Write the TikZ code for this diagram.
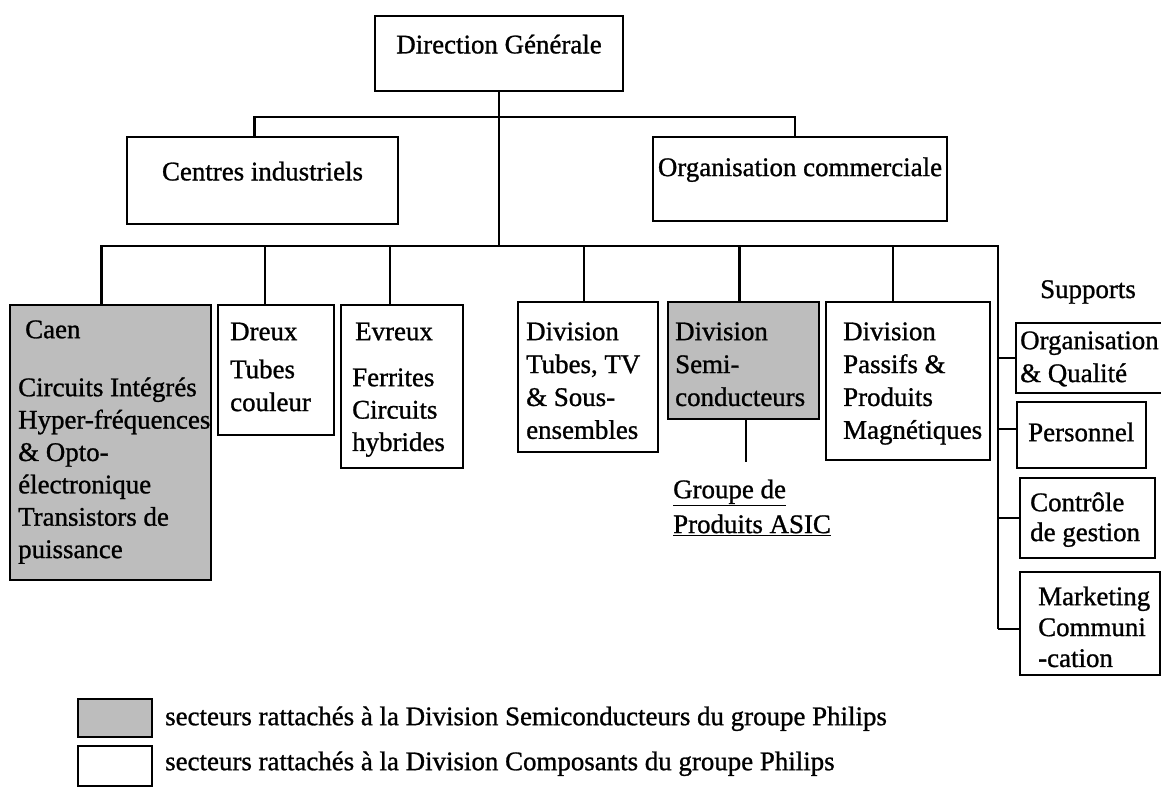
\documentclass[tikz,border=0pt]{standalone}
\usepackage{fontspec}
\setmainfont{Liberation Serif}[FakeBold=1]
\usetikzlibrary{fit}
\newcommand{\fstrut}{\rule{0pt}{20bp}}
\begin{document}
\begin{tikzpicture}[x=1bp,y=-1bp,
  box/.style={draw, line width=2.4bp, inner sep=0pt, rectangle},
  shadedbox/.style={box, fill=black!26},
  ctxt/.style={font=\fontsize{27}{33}\selectfont},
  txt/.style={inner sep=0pt, anchor=north west, align=left, font=\fontsize{27}{33}\selectfont},
  wire/.style={line width=2.4bp}]
\useasboundingbox (0,0) rectangle (1161,789);

% top level
\node[box, ctxt, fit={(375,16) (623,91)}] (dg) {Direction Générale};
\node[box, ctxt, fit={(127,137) (398,224)}] (cen) {Centres industriels};
\node[box, ctxt, fit={(653,137) (947,221)}] (oc) {Organisation commerciale};

% second level boxes
\node[shadedbox, fit={(10,305) (211,580)}] (caen) {};
\node[box, fit={(218,305) (334,435)}] (dreux) {};
\node[box, fit={(341,305) (463,468)}] (evreux) {};
\node[box, fit={(518,302) (658,452)}] (tubes) {};
\node[shadedbox, fit={(668,302) (819,419)}] (semi) {};
\node[box, fit={(826,302) (990,460)}] (passifs) {};

% supports boxes
\node[box, fit={(1016,323) (1162,393)}] (org) {};
\node[box, fit={(1017,402) (1146,468)}] (pers) {};
\node[box, fit={(1020,478) (1155,558)}] (ctl) {};
\node[box, fit={(1020,572) (1160,675)}] (mkt) {};

% texts
\node[txt] (caenT) at (25,318) {\fstrut Caen};
\node[txt, font=\fontsize{27}{32.5}\selectfont] (caenB) at (18,376) {\fstrut Circuits Intégrés\\Hyper-fréquences\\\& Opto-\\électronique\\Transistors de\\puissance};
\node[txt] (dreuxT) at (230,320) {\fstrut Dreux};
\node[txt] (dreuxB) at (230,358) {\fstrut Tubes\\couleur};
\node[txt] (evreuxT) at (355,320) {\fstrut Evreux};
\node[txt, font=\fontsize{27}{32.5}\selectfont] (evreuxB) at (352,366) {\fstrut Ferrites\\Circuits\\hybrides};
\node[txt] (tubesT) at (526,320) {\fstrut Division\\Tubes, TV\\\& Sous-\\ensembles};
\node[txt] (semiT) at (675,320) {\fstrut Division\\Semi-\\conducteurs};
\node[txt] (passifsT) at (843,320) {\fstrut Division\\Passifs \&\\Produits\\Magnétiques};
\node[ctxt, anchor=base] (supT) at (1088,298) {Supports};
\node[txt] (orgT) at (1020,329) {\fstrut Organisation\\\& Qualité};
\node[txt] (persT) at (1028,421) {\fstrut Personnel};
\node[txt, font=\fontsize{27}{30}\selectfont] (ctlT) at (1030,491) {\fstrut Contrôle\\de gestion};
\node[txt, font=\fontsize{27}{31}\selectfont] (mktT) at (1038,585) {\fstrut Marketing\\Communi\\-cation};
\node[txt, font=\fontsize{27}{35}\selectfont] (asic) at (673,478) {\fstrut\underline{Groupe de}\\\underline{Produits ASIC}};

% connectors
\coordinate (topbar) at (499,117);
\coordinate (busR) at (998,246);
\coordinate (suppEnd) at (998,629);
\coordinate (asicTop) at (746,462);

\draw[wire] (dg.south) -- (dg.south |- busR);
\draw[wire] ([xshift=-8]cen.north) |- (topbar) -| ([xshift=-5]oc.north);
\draw[wire] ([xshift=-9]caen.north) |- (busR) -- (suppEnd);
\draw[wire] ([xshift=-11]dreux.north) -- ([xshift=-11]dreux.north |- busR);
\draw[wire] ([xshift=-12]evreux.north) -- ([xshift=-12]evreux.north |- busR);
\draw[wire] ([xshift=-4]tubes.north) -- ([xshift=-4]tubes.north |- busR);
\draw[wire] ([xshift=-4]semi.north) -- ([xshift=-4]semi.north |- busR);
\draw[wire] ([xshift=-15]passifs.north) -- ([xshift=-15]passifs.north |- busR);
\draw[wire] (semi.south -| asicTop) -- (asicTop);
\draw[wire] (org.west -| busR) -- (org.west);
\draw[wire] ([yshift=6]pers.west -| busR) -- ([yshift=6]pers.west);
\draw[wire] (ctl.west -| busR) -- (ctl.west);
\draw[wire] (suppEnd) -- (suppEnd -| mkt.west);

% legend
\node[shadedbox, fit={(78,699) (152,737)}] (legS) {};
\node[box, fit={(78,746) (152,786)}] (legW) {};
\node[txt] (legST) at (165,705) {\fstrut secteurs rattachés à la Division Semiconducteurs du groupe Philips};
\node[txt] (legWT) at (165,750) {\fstrut secteurs rattachés à la Division Composants du groupe Philips};
\end{tikzpicture}
\end{document}
